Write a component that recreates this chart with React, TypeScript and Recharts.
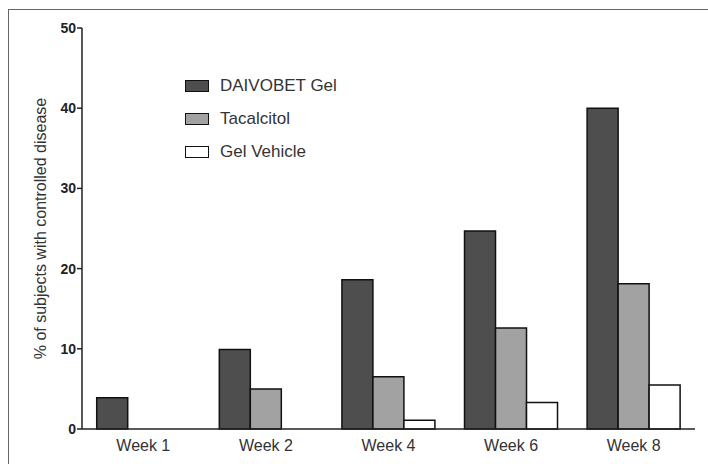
import React from 'react';
import { BarChart, Bar, XAxis, YAxis, Legend } from 'recharts';

const weeks = ['Week 1', 'Week 2', 'Week 4', 'Week 6', 'Week 8'];
const daivobet = [3.9, 9.9, 18.6, 24.7, 40];
const tacalcitol = [0, 5, 6.5, 12.6, 18.1];
const vehicle = [0, 0, 1.1, 3.3, 5.5];
const yTicks = [0, 10, 20, 30, 40, 50];

const series = [
  { key: 'daivobet', name: 'DAIVOBET Gel', fill: '#4e4e4e' },
  { key: 'tacalcitol', name: 'Tacalcitol', fill: '#a2a2a2' },
  { key: 'vehicle', name: 'Gel Vehicle', fill: '#ffffff' },
];

const data = weeks.map((week, i) => ({
  week,
  daivobet: daivobet[i],
  tacalcitol: tacalcitol[i],
  vehicle: vehicle[i],
}));

const font = '"Liberation Sans", Arial, Helvetica, sans-serif';

const LegendBox = () => (
  <div style={{ fontFamily: font }}>
    {series.map((s) => (
      <div key={s.key} style={{ display: 'flex', alignItems: 'center', height: 33 }}>
        <div
          style={{
            width: 22,
            height: 10,
            background: s.fill,
            border: '1.5px solid #111',
            marginRight: 11,
          }}
        />
        <span style={{ fontSize: 17, color: '#333' }}>{s.name}</span>
      </div>
    ))}
  </div>
);

export default function App() {
  return (
    <div
      style={{
        position: 'absolute',
        left: 0,
        top: 0,
        width: 708,
        height: 464,
        overflow: 'hidden',
        background: '#fff',
      }}
    >
      {/* frame, runs off the right and bottom edges */}
      <div
        style={{
          position: 'absolute',
          left: 8,
          top: 9,
          width: 720,
          height: 480,
          border: '1.5px solid #666',
        }}
      />
      <BarChart
        width={708}
        height={464}
        data={data}
        margin={{ top: 28, right: 13, bottom: 5, left: 50 }}
        barCategoryGap="12%"
        barGap={0}
        style={{ position: 'absolute', left: 0, top: 0 }}
      >
        <XAxis
          dataKey="week"
          height={30}
          tickLine={false}
          axisLine={{ stroke: '#222', strokeWidth: 1.5 }}
          tick={{ fontSize: 16, fill: '#333', fontFamily: font }}
          tickMargin={5}
        />
        <YAxis
          width={32}
          domain={[0, 50]}
          ticks={yTicks}
          interval={0}
          tickSize={5}
          axisLine={{ stroke: '#222', strokeWidth: 1.5 }}
          tickLine={{ stroke: '#222', strokeWidth: 1.5 }}
          tick={{ fontSize: 14, fontWeight: 'bold', fill: '#222', fontFamily: font }}
          tickMargin={1}
          label={{
            value: '% of subjects with controlled disease',
            angle: -90,
            position: 'insideLeft',
            offset: -10,
            style: { textAnchor: 'middle', fontSize: 16, fill: '#333', fontFamily: font },
          }}
        />
        <Legend
          layout="vertical"
          verticalAlign="middle"
          align="center"
          content={<LegendBox />}
          wrapperStyle={{ left: 185, top: 69, width: 200 }}
        />
        {series.map((s) => (
          <Bar
            key={s.key}
            dataKey={s.key}
            name={s.name}
            fill={s.fill}
            stroke="#111"
            strokeWidth={1.5}
            isAnimationActive={false}
          />
        ))}
      </BarChart>
    </div>
  );
}
